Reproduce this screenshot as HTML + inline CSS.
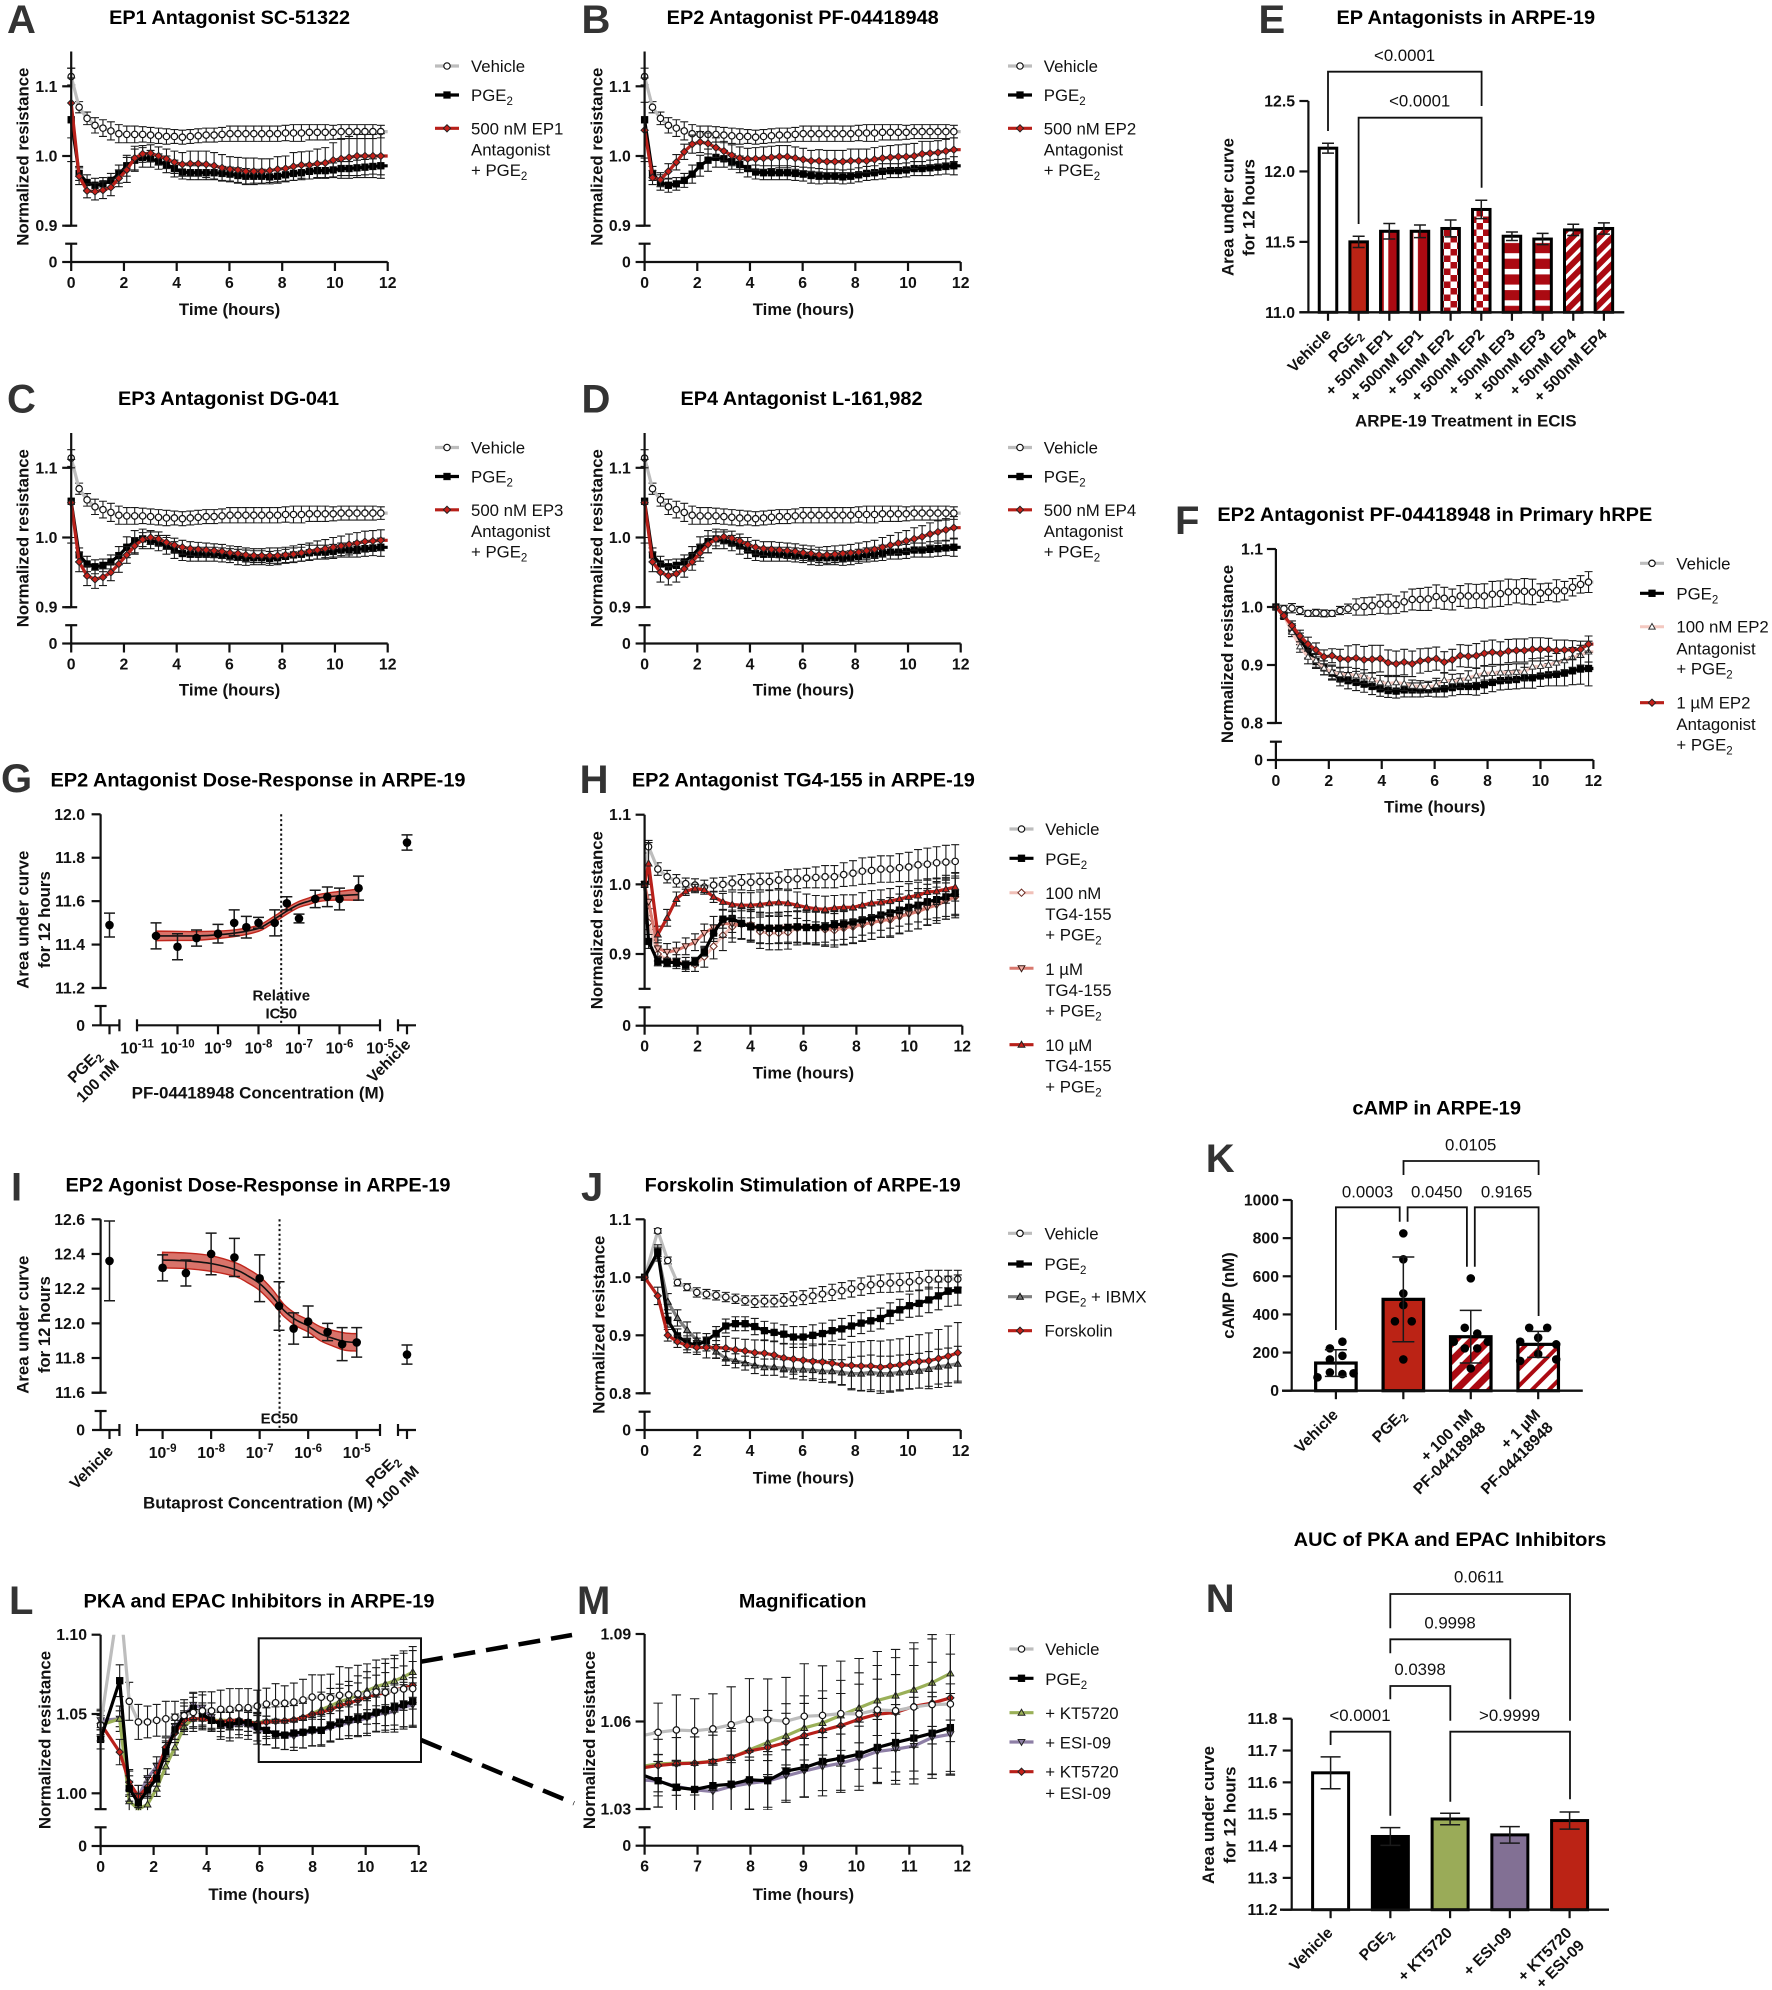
<!DOCTYPE html>
<html lang="en">
<head>
<meta charset="utf-8">
<title>EP receptor antagonist and agonist resistance figure</title>
<style>
html,body{margin:0;padding:0;background:#fff}
svg{display:block;font-family:"Liberation Sans",Arial,sans-serif}
.letter{font-size:40px;font-weight:700;fill:#333}
.title{font-size:19px;font-weight:700;fill:#000}
.axlab{font-size:16.8px;font-weight:700;fill:#111}
.leg{font-size:16.8px;fill:#111}
.pval{font-size:16.8px;fill:#111}
.tick{font-size:15.8px;font-weight:700;fill:#111}
.cat{font-size:15.6px;font-weight:700;fill:#111}
.anno{font-size:15px;font-weight:700;fill:#111}
.sub{font-size:11.5px}
.bracket{fill:none;stroke:#111;stroke-width:1.8}
</style>
</head>
<body>
<svg id="figure" width="1772" height="1990" viewBox="0 0 1772 1990">
<defs id="defs">
<pattern id="pat-v" patternUnits="userSpaceOnUse" x="1383.8" y="0" width="29.6" height="10"><rect width="29.6" height="10" fill="#ab0a12"/><rect width="4.5" height="10" fill="#fff"/></pattern>
<pattern id="pat-check" patternUnits="userSpaceOnUse" x="1" y="2" width="13" height="13"><rect width="13" height="13" fill="#ab0a12"/><rect width="6.5" height="6.5" fill="#fff"/><rect x="6.5" y="6.5" width="6.5" height="6.5" fill="#fff"/></pattern>
<pattern id="pat-h" patternUnits="userSpaceOnUse" x="0" y="2" width="10" height="15.7"><rect width="10" height="15.7" fill="#ab0a12"/><rect width="10" height="5.5" fill="#fff"/></pattern>
<pattern id="pat-d" patternUnits="userSpaceOnUse" width="9.5" height="9.5" patternTransform="rotate(45)"><rect width="9.5" height="9.5" fill="#ab0a12"/><rect width="3.5" height="9.5" fill="#fff"/></pattern>
<pattern id="pat-d2" patternUnits="userSpaceOnUse" width="12" height="12" patternTransform="rotate(45)"><rect width="12" height="12" fill="#ab0a12"/><rect width="5" height="12" fill="#fff"/></pattern>
<pattern id="pat-d3" patternUnits="userSpaceOnUse" width="12" height="12" patternTransform="rotate(45)"><rect width="12" height="12" fill="#fff"/><rect width="4" height="12" fill="#ab0a12"/></pattern>
</defs>

<g id="panel-a">
<text class="letter" x="7" y="33">A</text>
<text class="title" x="229.6" y="24" text-anchor="middle" textLength="241" lengthAdjust="spacingAndGlyphs">EP1 Antagonist SC-51322</text>
<text class="axlab" transform="translate(28.7,156.7) rotate(-90)" text-anchor="middle">Normalized resistance</text>
<text class="axlab" x="229.6" y="315" text-anchor="middle">Time (hours)</text>
<text class="leg" x="471" y="72">Vehicle</text>
<text class="leg" x="471" y="101">PGE<tspan class="sub" dy="4">2</tspan></text>
<text class="leg" x="471" y="134.3">500 nM EP1</text>
<text class="leg" x="471" y="155.7">Antagonist</text>
<text class="leg" x="471" y="176">+ PGE<tspan class="sub" dy="4">2</tspan></text>
</g>

<g id="panel-b">
<text class="letter" x="581.5" y="33">B</text>
<text class="title" x="802.7" y="24" text-anchor="middle" textLength="272" lengthAdjust="spacingAndGlyphs">EP2 Antagonist PF-04418948</text>
<text class="axlab" transform="translate(602.5,156.7) rotate(-90)" text-anchor="middle">Normalized resistance</text>
<text class="axlab" x="803.4" y="315" text-anchor="middle">Time (hours)</text>
<text class="leg" x="1043.8" y="72">Vehicle</text>
<text class="leg" x="1043.8" y="101">PGE<tspan class="sub" dy="4">2</tspan></text>
<text class="leg" x="1043.8" y="134.3">500 nM EP2</text>
<text class="leg" x="1043.8" y="155.7">Antagonist</text>
<text class="leg" x="1043.8" y="176">+ PGE<tspan class="sub" dy="4">2</tspan></text>
</g>

<g id="panel-c">
<text class="letter" x="7" y="412.5">C</text>
<text class="title" x="228.5" y="405" text-anchor="middle" textLength="221" lengthAdjust="spacingAndGlyphs">EP3 Antagonist DG-041</text>
<text class="axlab" transform="translate(28.7,538.2) rotate(-90)" text-anchor="middle">Normalized resistance</text>
<text class="axlab" x="229.6" y="695.5" text-anchor="middle">Time (hours)</text>
<text class="leg" x="471" y="453.5">Vehicle</text>
<text class="leg" x="471" y="482.5">PGE<tspan class="sub" dy="4">2</tspan></text>
<text class="leg" x="471" y="515.8">500 nM EP3</text>
<text class="leg" x="471" y="537.2">Antagonist</text>
<text class="leg" x="471" y="557.5">+ PGE<tspan class="sub" dy="4">2</tspan></text>
</g>

<g id="panel-d">
<text class="letter" x="581.5" y="412.5">D</text>
<text class="title" x="801.5" y="405" text-anchor="middle" textLength="242" lengthAdjust="spacingAndGlyphs">EP4 Antagonist L-161,982</text>
<text class="axlab" transform="translate(602.5,538.2) rotate(-90)" text-anchor="middle">Normalized resistance</text>
<text class="axlab" x="803.4" y="695.5" text-anchor="middle">Time (hours)</text>
<text class="leg" x="1043.8" y="453.5">Vehicle</text>
<text class="leg" x="1043.8" y="482.5">PGE<tspan class="sub" dy="4">2</tspan></text>
<text class="leg" x="1043.8" y="515.8">500 nM EP4</text>
<text class="leg" x="1043.8" y="537.2">Antagonist</text>
<text class="leg" x="1043.8" y="557.5">+ PGE<tspan class="sub" dy="4">2</tspan></text>
</g>

<g id="panel-e">
<text class="letter" x="1258.5" y="33">E</text>
<text class="title" x="1465.8" y="24" text-anchor="middle" textLength="258.6" lengthAdjust="spacingAndGlyphs">EP Antagonists in ARPE-19</text>
<text class="axlab" transform="translate(1233.6,207) rotate(-90)" text-anchor="middle">Area under curve</text>
<text class="axlab" transform="translate(1254.7,207.5) rotate(-90)" text-anchor="middle">for 12 hours</text>
<text class="axlab" x="1465.8" y="426.7" text-anchor="middle" textLength="221.6" lengthAdjust="spacingAndGlyphs">ARPE-19 Treatment in ECIS</text>
<path class="bracket" d="M1328 131V71.7H1481.6V106"/>
<path class="bracket" d="M1358.6 224V117.7H1481.6V187.7"/>
<text class="pval" x="1404.6" y="61" text-anchor="middle">&lt;0.0001</text>
<text class="pval" x="1419.7" y="106.7" text-anchor="middle">&lt;0.0001</text>
</g>

<g id="panel-f">
<text class="letter" x="1175" y="534">F</text>
<text class="title" x="1434.8" y="521" text-anchor="middle" textLength="434.9" lengthAdjust="spacingAndGlyphs">EP2 Antagonist PF-04418948 in Primary hRPE</text>
<text class="axlab" transform="translate(1232.9,654) rotate(-90)" text-anchor="middle">Normalized resistance</text>
<text class="axlab" x="1434.8" y="812.7" text-anchor="middle">Time (hours)</text>
<text class="leg" x="1676.4" y="569.3">Vehicle</text>
<text class="leg" x="1676.4" y="599.3">PGE<tspan class="sub" dy="4">2</tspan></text>
<text class="leg" x="1676.4" y="632.7">100 nM EP2</text>
<text class="leg" x="1676.4" y="654.3">Antagonist</text>
<text class="leg" x="1676.4" y="674.3">+ PGE<tspan class="sub" dy="4">2</tspan></text>
<text class="leg" x="1676.4" y="708.7">1 µM EP2</text>
<text class="leg" x="1676.4" y="730">Antagonist</text>
<text class="leg" x="1676.4" y="750.7">+ PGE<tspan class="sub" dy="4">2</tspan></text>
</g>

<g id="panel-g">
<text class="letter" x="1" y="792">G</text>
<text class="title" x="258" y="786.7" text-anchor="middle" textLength="415" lengthAdjust="spacingAndGlyphs">EP2 Antagonist Dose-Response in ARPE-19</text>
<text class="axlab" transform="translate(28.7,919.7) rotate(-90)" text-anchor="middle">Area under curve</text>
<text class="axlab" transform="translate(49.8,919.7) rotate(-90)" text-anchor="middle">for 12 hours</text>
<text class="axlab" x="258" y="1098.3" text-anchor="middle" textLength="252.6" lengthAdjust="spacingAndGlyphs">PF-04418948 Concentration (M)</text>
<text class="anno" x="281.3" y="1000.7" text-anchor="middle">Relative</text>
<text class="anno" x="281.3" y="1018.3" text-anchor="middle">IC50</text>
</g>

<g id="panel-h">
<text class="letter" x="579.6" y="793">H</text>
<text class="title" x="803.4" y="786.7" text-anchor="middle" textLength="343" lengthAdjust="spacingAndGlyphs">EP2 Antagonist TG4-155 in ARPE-19</text>
<text class="axlab" transform="translate(602.5,920.2) rotate(-90)" text-anchor="middle">Normalized resistance</text>
<text class="axlab" x="803.4" y="1078.3" text-anchor="middle">Time (hours)</text>
<text class="leg" x="1045.3" y="835">Vehicle</text>
<text class="leg" x="1045.3" y="865">PGE<tspan class="sub" dy="4">2</tspan></text>
<text class="leg" x="1045.3" y="899">100 nM</text>
<text class="leg" x="1045.3" y="920">TG4-155</text>
<text class="leg" x="1045.3" y="940.7">+ PGE<tspan class="sub" dy="4">2</tspan></text>
<text class="leg" x="1045.3" y="975">1 µM</text>
<text class="leg" x="1045.3" y="996">TG4-155</text>
<text class="leg" x="1045.3" y="1016.7">+ PGE<tspan class="sub" dy="4">2</tspan></text>
<text class="leg" x="1045.3" y="1051">10 µM</text>
<text class="leg" x="1045.3" y="1071.7">TG4-155</text>
<text class="leg" x="1045.3" y="1092.3">+ PGE<tspan class="sub" dy="4">2</tspan></text>
</g>

<g id="panel-i">
<text class="letter" x="11" y="1200.7">I</text>
<text class="title" x="258" y="1191.3" text-anchor="middle" textLength="385" lengthAdjust="spacingAndGlyphs">EP2 Agonist Dose-Response in ARPE-19</text>
<text class="axlab" transform="translate(28.7,1324.7) rotate(-90)" text-anchor="middle">Area under curve</text>
<text class="axlab" transform="translate(49.8,1324.7) rotate(-90)" text-anchor="middle">for 12 hours</text>
<text class="axlab" x="258" y="1508.3" text-anchor="middle" textLength="230" lengthAdjust="spacingAndGlyphs">Butaprost Concentration (M)</text>
<text class="anno" x="279.4" y="1423.3" text-anchor="middle">EC50</text>
</g>

<g id="panel-j">
<text class="letter" x="581" y="1200.7">J</text>
<text class="title" x="802.7" y="1191.3" text-anchor="middle" textLength="316" lengthAdjust="spacingAndGlyphs">Forskolin Stimulation of ARPE-19</text>
<text class="axlab" transform="translate(604.4,1324.7) rotate(-90)" text-anchor="middle">Normalized resistance</text>
<text class="axlab" x="803.4" y="1483.3" text-anchor="middle">Time (hours)</text>
<text class="leg" x="1044.5" y="1239.3">Vehicle</text>
<text class="leg" x="1044.5" y="1270">PGE<tspan class="sub" dy="4">2</tspan></text>
<text class="leg" x="1044.5" y="1302.7">PGE<tspan class="sub" dy="4">2</tspan><tspan dy="-4"> + IBMX</tspan></text>
<text class="leg" x="1044.5" y="1336.7">Forskolin</text>
</g>

<g id="panel-k">
<text class="letter" x="1205.7" y="1172">K</text>
<text class="title" x="1436.7" y="1114.3" text-anchor="middle" textLength="168.7" lengthAdjust="spacingAndGlyphs">cAMP in ARPE-19</text>
<text class="axlab" transform="translate(1234,1295.5) rotate(-90)" text-anchor="middle">cAMP (nM)</text>
<path class="bracket" d="M1403.5 1175V1161H1538.6V1175"/>
<path class="bracket" d="M1335.9 1330V1207.3H1399.7V1221.7"/>
<path class="bracket" d="M1407.6 1221.7V1207.3H1466.9V1266.7"/>
<path class="bracket" d="M1474.8 1266.7V1207.3H1538.6V1316"/>
<text class="pval" x="1470.7" y="1150.7" text-anchor="middle">0.0105</text>
<text class="pval" x="1367.6" y="1197.3" text-anchor="middle">0.0003</text>
<text class="pval" x="1436.7" y="1197.3" text-anchor="middle">0.0450</text>
<text class="pval" x="1506.5" y="1197.3" text-anchor="middle">0.9165</text>
</g>

<g id="panel-l">
<text class="letter" x="9" y="1614">L</text>
<text class="title" x="259" y="1607.7" text-anchor="middle" textLength="351" lengthAdjust="spacingAndGlyphs">PKA and EPAC Inhibitors in ARPE-19</text>
<text class="axlab" transform="translate(50.5,1740) rotate(-90)" text-anchor="middle">Normalized resistance</text>
<text class="axlab" x="259" y="1900" text-anchor="middle">Time (hours)</text>
</g>

<g id="panel-m">
<text class="letter" x="577" y="1614">M</text>
<text class="title" x="802.7" y="1607.7" text-anchor="middle" textLength="127.5" lengthAdjust="spacingAndGlyphs">Magnification</text>
<text class="axlab" transform="translate(594.9,1740) rotate(-90)" text-anchor="middle">Normalized resistance</text>
<text class="axlab" x="803.4" y="1900" text-anchor="middle">Time (hours)</text>
<text class="leg" x="1045.3" y="1655">Vehicle</text>
<text class="leg" x="1045.3" y="1685">PGE<tspan class="sub" dy="4">2</tspan></text>
<text class="leg" x="1045.3" y="1719">+ KT5720</text>
<text class="leg" x="1045.3" y="1748.3">+ ESI-09</text>
<text class="leg" x="1045.3" y="1777.7">+ KT5720</text>
<text class="leg" x="1045.3" y="1799">+ ESI-09</text>
</g>

<g id="panel-n">
<text class="letter" x="1205.7" y="1612">N</text>
<text class="title" x="1450" y="1546" text-anchor="middle" textLength="312.6" lengthAdjust="spacingAndGlyphs">AUC of PKA and EPAC Inhibitors</text>
<text class="axlab" transform="translate(1214,1815) rotate(-90)" text-anchor="middle">Area under curve</text>
<text class="axlab" transform="translate(1235.5,1815) rotate(-90)" text-anchor="middle">for 12 hours</text>
<path class="bracket" d="M1390.3 1628.3V1594H1570V1720.7"/>
<path class="bracket" d="M1390.3 1653.3V1639.3H1510.3V1699.3"/>
<path class="bracket" d="M1390.3 1699.3V1686H1450.3V1720.7"/>
<path class="bracket" d="M1330.6 1745V1731.7H1390.3V1815.7"/>
<path class="bracket" d="M1450.3 1801.7V1731.7H1570V1799.3"/>
<text class="pval" x="1479" y="1582.7" text-anchor="middle">0.0611</text>
<text class="pval" x="1450" y="1628.7" text-anchor="middle">0.9998</text>
<text class="pval" x="1420" y="1675" text-anchor="middle">0.0398</text>
<text class="pval" x="1360" y="1721" text-anchor="middle">&lt;0.0001</text>
<text class="pval" x="1509.6" y="1721" text-anchor="middle">&gt;0.9999</text>
</g>
<g id="inset-callout">
<rect x="258.7" y="1638.3" width="162.3" height="123.7" fill="none" stroke="#111" stroke-width="2"/>
<line x1="421" y1="1661.7" x2="572" y2="1635" stroke="#000" stroke-width="4.5" stroke-dasharray="22 11"/>
<line x1="421" y1="1740" x2="574" y2="1803.3" stroke="#000" stroke-width="4.5" stroke-dasharray="22 11"/>
</g>
</svg>

<script>
/* ---------- shared time-course values (panels A-D) ---------- */
const epVehicle=[1.114,1.070,1.054,1.044,1.040,1.036,1.032,1.031,1.031,1.031,1.030,1.029,1.028,1.028,1.027,1.028,1.029,1.030,1.030,1.031,1.032,1.032,1.032,1.032,1.032,1.032,1.032,1.033,1.033,1.033,1.034,1.034,1.034,1.034,1.035,1.035,1.035,1.035,1.035,1.035];
const epVehicleErr=[.012,.008,.009,.011,.012,.013,.013,.012,.012,.011,.011,.011,.011,.010,.010,.010,.010,.010,.010,.010,.011,.011,.011,.011,.011,.011,.011,.011,.012,.012,.011,.011,.011,.010,.010,.010,.010,.010,.010,.009];
const epPge=[1.052,.975,.962,.958,.960,.965,.974,.986,.994,.998,.996,.992,.988,.982,.977,.976,.976,.976,.976,.975,.974,.972,.971,.971,.971,.970,.971,.973,.975,.976,.978,.979,.979,.980,.982,.982,.983,.984,.985,.986];
const epPgeErr=[.060,.010,.011,.010,.009,.010,.013,.015,.016,.014,.012,.011,.012,.012,.010,.010,.010,.010,.010,.010,.010,.011,.011,.010,.010,.010,.010,.010,.010,.010,.011,.010,.010,.010,.010,.010,.011,.011,.011,.013];
const ep1Red=[1.076,.971,.950,.949,.951,.955,.968,.980,.997,1.003,1.004,1.000,.996,.991,.988,.989,.989,.988,.986,.983,.981,.980,.978,.978,.978,.979,.981,.982,.985,.987,.987,.989,.990,.994,.996,.998,1.000,1.000,1.000,1.000];
const ep1RedErr=[.050,.012,.010,.012,.012,.012,.012,.018,.017,.012,.012,.013,.014,.016,.017,.018,.018,.019,.019,.019,.018,.018,.019,.019,.018,.017,.018,.018,.020,.019,.020,.021,.022,.025,.028,.030,.031,.031,.031,.032];
const ep2Red=[1.037,.969,.966,.978,.991,1.006,1.017,1.020,1.018,1.012,1.007,1.001,.997,.996,.996,.997,.998,.999,.999,.997,.995,.993,.993,.992,.992,.992,.993,.993,.993,.995,.997,.998,.999,.999,1.000,1.003,1.004,1.005,1.007,1.009];
const ep2RedErr=[.040,.010,.010,.011,.011,.011,.013,.015,.015,.014,.014,.015,.016,.015,.016,.016,.016,.016,.016,.016,.016,.015,.016,.016,.016,.016,.017,.017,.017,.017,.017,.017,.017,.018,.018,.018,.017,.017,.017,.017];
const ep3Red=[1.050,.965,.945,.940,.943,.950,.962,.975,.988,.997,1.000,.998,.993,.989,.986,.984,.983,.982,.981,.980,.978,.977,.975,.974,.974,.974,.974,.975,.976,.978,.980,.982,.984,.986,.988,.990,.992,.994,.995,.996];
const ep3RedErr=[.050,.014,.014,.013,.012,.012,.012,.012,.012,.010,.010,.010,.010,.010,.010,.010,.010,.010,.010,.010,.010,.010,.010,.010,.010,.011,.011,.011,.012,.012,.012,.013,.013,.014,.014,.015,.015,.015,.015,.015];
const ep4Red=[1.050,.965,.950,.945,.948,.955,.965,.978,.990,.998,1.001,.999,.995,.990,.986,.984,.983,.982,.981,.980,.978,.977,.975,.975,.976,.977,.978,.979,.981,.983,.986,.989,.992,.995,.998,1.001,1.005,1.008,1.011,1.014];
const ep4RedErr=[.050,.014,.014,.013,.012,.012,.012,.012,.012,.010,.010,.010,.010,.010,.010,.010,.011,.011,.011,.011,.011,.011,.011,.012,.012,.012,.012,.013,.013,.013,.014,.014,.015,.015,.016,.016,.016,.016,.016,.016];

/* ---------- panel F values ---------- */
const fVehicle=[1.000,.997,.998,.994,.989,.990,.989,.989,.994,.997,1.000,1.001,1.002,1.005,1.005,1.004,1.009,1.013,1.013,1.014,1.018,1.015,1.013,1.019,1.019,1.019,1.019,1.022,1.023,1.026,1.027,1.027,1.026,1.024,1.026,1.028,1.028,1.034,1.039,1.043];
const fVehicleErr=[0,.006,.008,.007,.005,.006,.006,.005,.007,.008,.014,.015,.015,.016,.017,.015,.017,.018,.019,.020,.020,.019,.018,.018,.021,.020,.021,.022,.022,.022,.020,.022,.022,.016,.015,.019,.016,.015,.015,.018];
const fPge=[1.000,.984,.963,.945,.924,.906,.895,.886,.876,.873,.870,.867,.863,.859,.856,.855,.857,.857,.857,.858,.859,.859,.861,.863,.863,.863,.866,.870,.873,.874,.875,.878,.878,.881,.883,.884,.886,.890,.893,.894];
const fPgeErr=[0,.004,.008,.010,.012,.012,.012,.012,.012,.014,.014,.014,.014,.013,.012,.012,.012,.012,.012,.012,.014,.014,.014,.014,.014,.015,.015,.016,.016,.016,.016,.018,.018,.018,.019,.020,.022,.024,.026,.030];
const f100nM=[1.000,.985,.957,.932,.914,.908,.895,.888,.884,.884,.882,.880,.875,.870,.868,.870,.868,.864,.863,.862,.865,.874,.872,.873,.878,.882,.886,.886,.887,.887,.888,.888,.897,.898,.900,.904,.908,.913,.917,.923];
const f100nMErr=[0,.004,.008,.010,.012,.012,.012,.012,.012,.012,.012,.012,.012,.012,.012,.012,.012,.010,.010,.010,.012,.012,.012,.012,.012,.012,.012,.012,.014,.014,.014,.014,.014,.014,.015,.016,.016,.017,.017,.018];
const f1uM=[1.000,.985,.968,.950,.936,.926,.914,.916,.911,.910,.912,.909,.910,.911,.904,.902,.905,.902,.907,.909,.911,.905,.909,.916,.915,.916,.920,.922,.920,.924,.925,.925,.927,.927,.927,.925,.926,.926,.927,.936];
const f1uMErr=[0,.004,.008,.010,.012,.012,.012,.012,.016,.023,.023,.023,.024,.023,.022,.022,.022,.022,.021,.020,.020,.018,.018,.019,.019,.021,.021,.021,.020,.020,.020,.020,.020,.020,.019,.018,.017,.016,.014,.014];

/* ---------- panel H values ---------- */
const hVehicle=[1.000,1.054,1.022,1.011,1.005,1.001,.999,.996,.999,1.000,1.002,1.003,1.003,1.004,1.004,1.006,1.007,1.008,1.009,1.010,1.011,1.011,1.014,1.016,1.019,1.020,1.022,1.022,1.024,1.025,1.028,1.029,1.031,1.032,1.033];
const hVehicleErr=[0,.009,.009,.009,.009,.008,.009,.010,.010,.010,.010,.011,.012,.012,.012,.012,.014,.014,.014,.015,.016,.016,.017,.018,.019,.019,.019,.019,.020,.021,.022,.023,.023,.024,.024];
const hPge=[1.000,.918,.889,.888,.888,.884,.889,.903,.930,.950,.951,.944,.939,.938,.937,.937,.938,.939,.938,.938,.939,.942,.943,.946,.949,.952,.956,.959,.963,.967,.970,.975,.978,.982,.987];
const hPgeErr=[0,.010,.006,.006,.006,.006,.006,.006,.012,.013,.020,.022,.022,.022,.022,.022,.023,.023,.022,.022,.022,.022,.022,.022,.022,.022,.022,.022,.023,.024,.024,.025,.026,.028,.030];
const h100nM=[1.000,.945,.900,.892,.889,.885,.885,.896,.911,.927,.939,.943,.942,.932,.930,.930,.931,.937,.938,.937,.935,.934,.937,.939,.942,.945,.948,.949,.954,.958,.962,.968,.975,.978,.982];
const h100nMErr=[0,.010,.010,.010,.010,.010,.010,.015,.018,.022,.022,.022,.022,.024,.024,.024,.024,.024,.024,.024,.024,.024,.024,.024,.024,.024,.024,.025,.025,.025,.026,.026,.027,.028,.030];
const h1uM=[1.000,.975,.908,.903,.905,.911,.917,.930,.938,.944,.943,.942,.941,.937,.937,.938,.939,.939,.939,.938,.937,.937,.938,.940,.943,.945,.948,.950,.954,.957,.961,.966,.970,.976,.982];
const h1uMErr=[0,.010,.012,.012,.012,.012,.012,.013,.016,.020,.020,.020,.022,.022,.022,.022,.022,.022,.024,.024,.024,.024,.024,.024,.024,.024,.024,.024,.024,.024,.025,.025,.026,.026,.027];
const h10uM=[1.000,1.030,.928,.952,.979,.990,.994,.992,.982,.975,.971,.970,.970,.971,.973,.974,.973,.970,.967,.965,.964,.966,.967,.967,.970,.973,.974,.976,.979,.982,.984,.989,.990,.993,.996];
const h10uMErr=[0,.030,.012,.012,.010,.006,.006,.006,.008,.012,.018,.018,.018,.018,.018,.018,.018,.019,.019,.019,.019,.018,.018,.018,.018,.018,.018,.018,.018,.019,.019,.019,.019,.020,.020];

/* ---------- panel J values ---------- */
const jVehicle=[1.000,1.080,1.029,.991,.983,.974,.971,.969,.966,.963,.960,.958,.959,.959,.961,.963,.965,.968,.971,.974,.977,.980,.984,.987,.989,.990,.991,.992,.994,.996,.997,.997,.997];
const jVehicleErr=[0,.004,.006,.006,.006,.008,.008,.008,.008,.008,.008,.010,.010,.010,.011,.012,.012,.013,.013,.014,.014,.014,.015,.015,.015,.016,.016,.016,.016,.016,.015,.015,.015];
const jPge=[1.000,1.044,.926,.899,.887,.883,.891,.903,.916,.920,.920,.915,.908,.905,.902,.897,.897,.900,.903,.908,.911,.916,.921,.925,.929,.938,.944,.951,.955,.961,.968,.976,.978];
const jPgeErr=[0,.012,.012,.012,.012,.012,.012,.012,.012,.012,.012,.014,.016,.016,.016,.018,.018,.018,.018,.018,.018,.018,.018,.018,.018,.018,.018,.020,.022,.022,.024,.026,.026];
const jIbmx=[1.000,1.040,.958,.930,.909,.892,.885,.872,.860,.856,.852,.848,.845,.845,.843,.841,.841,.840,.838,.838,.836,.834,.834,.836,.834,.834,.836,.837,.839,.842,.846,.848,.851];
const jIbmxErr=[0,.012,.014,.014,.014,.012,.012,.012,.012,.012,.012,.014,.014,.014,.015,.016,.018,.018,.019,.020,.022,.028,.030,.030,.030,.030,.030,.030,.030,.030,.030,.030,.030];
const jForskolin=[1.000,.968,.900,.889,.882,.879,.879,.879,.878,.875,.873,.870,.869,.866,.861,.859,.857,.855,.854,.852,.849,.848,.847,.847,.845,.847,.849,.853,.855,.856,.860,.864,.870];
const jForskolinErr=[0,.015,.010,.010,.012,.012,.018,.018,.020,.020,.020,.022,.022,.024,.024,.026,.028,.030,.030,.032,.034,.040,.042,.044,.045,.045,.045,.045,.046,.048,.050,.052,.052];

/* ---------- panels L and M share these values ---------- */
const lVehicle=[1.043,1.125,1.058,1.045,1.045,1.046,1.047,1.048,1.049,1.051,1.052,1.052,1.053,1.053,1.054,1.054,1.055,1.0563,1.0571,1.0568,1.0575,1.0589,1.0607,1.0606,1.0601,1.0618,1.0621,1.0627,1.0626,1.0640,1.0637,1.0650,1.0658,1.0660];
const lVehicleErr=[.010,.020,.012,.011,.010,.010,.011,.010,.010,.012,.012,.012,.012,.013,.012,.012,.010,.010,.012,.011,.012,.013,.014,.014,.015,.018,.017,.018,.019,.020,.021,.022,.024,.024];
const lPge=[1.034,1.071,1.003,.994,1.002,1.0095,1.026,1.040,1.049,1.0535,1.050,1.046,1.0437,1.043,1.045,1.0445,1.042,1.0397,1.0374,1.0367,1.0380,1.0385,1.0400,1.0397,1.0430,1.0442,1.0463,1.0474,1.0488,1.0511,1.0528,1.0543,1.0560,1.0579];
const lPgeErr=[.006,.010,.008,.006,.005,.005,.006,.006,.006,.007,.007,.007,.008,.008,.008,.008,.009,.009,.009,.009,.009,.010,.010,.010,.010,.010,.010,.011,.011,.012,.013,.014,.014,.015];
const lKt=[1.043,1.047,.995,.990,.993,1.003,1.017,1.029,1.042,1.047,1.047,1.046,1.046,1.046,1.046,1.045,1.0445,1.0455,1.0457,1.0458,1.0464,1.0476,1.0503,1.0528,1.0551,1.0578,1.0595,1.0621,1.0647,1.0672,1.0689,1.0709,1.0733,1.0765];
const lKtErr=[.006,.005,.007,.006,.006,.005,.005,.005,.005,.005,.005,.005,.005,.006,.006,.006,.006,.011,.011,.011,.010,.010,.010,.011,.011,.011,.011,.012,.012,.012,.013,.014,.015,.016];
const lEsi=[1.046,1.047,1.006,.998,1.0095,1.017,1.027,1.042,1.049,1.0557,1.054,1.048,1.043,1.042,1.044,1.043,1.040,1.0396,1.0377,1.0366,1.0360,1.0377,1.0388,1.0396,1.0413,1.0430,1.0445,1.0457,1.0474,1.0497,1.0505,1.0516,1.0545,1.0556];
const lEsiErr=[.006,.008,.008,.007,.006,.006,.006,.008,.008,.008,.008,.009,.009,.009,.009,.009,.009,.009,.009,.009,.009,.009,.009,.009,.009,.009,.010,.010,.011,.011,.012,.013,.014,.014];
const lCombo=[1.044,1.026,1.007,.998,1.004,1.013,1.029,1.038,1.046,1.047,1.047,1.046,1.045,1.046,1.046,1.045,1.044,1.0449,1.0455,1.0457,1.0463,1.0477,1.0499,1.0511,1.0528,1.0552,1.0569,1.0586,1.0608,1.0625,1.0631,1.0652,1.0663,1.0681];
const lComboErr=[.008,.008,.008,.007,.006,.006,.006,.006,.006,.006,.006,.006,.006,.006,.006,.006,.006,.009,.009,.009,.009,.009,.010,.010,.010,.011,.011,.011,.012,.012,.013,.014,.014,.015];

/* ---------- axis tick values ---------- */
const hourTicks=[0,2,4,6,8,10,12];
const magnifiedHourTicks=[6,7,8,9,10,11,12];
const resistanceTicksA=[1.1,1.0,0.9];
const resistanceTicksF=[1.1,1.0,0.9,0.8];
const resistanceTicksL=[1.10,1.05,1.00];
const resistanceTicksM=[1.09,1.06,1.03];

/* ---------- panel E bars ---------- */
const eCategories=[['Vehicle'],['PGE_2'],['+ 50nM EP1'],['+ 500nM EP1'],['+ 50nM EP2'],['+ 500nM EP2'],['+ 50nM EP3'],['+ 500nM EP3'],['+ 50nM EP4'],['+ 500nM EP4']];
const eValues=[12.165,11.50,11.575,11.575,11.595,11.73,11.54,11.52,11.585,11.595];
const eErrors=[.035,.04,.055,.045,.06,.065,.03,.04,.04,.04];
const eTicks=[11.0,11.5,12.0,12.5];

/* ---------- panel G dose-response ---------- */
const gLogDose=[-10.53,-10,-9.53,-9,-8.6,-8.3,-8,-7.6,-7.3,-7,-6.6,-6.3,-6,-5.53];
const gAuc=[11.44,11.39,11.43,11.45,11.50,11.48,11.50,11.50,11.59,11.52,11.61,11.62,11.61,11.66];
const gAucErr=[.06,.06,.037,.043,.06,.05,.025,.06,.03,.02,.04,.045,.05,.055];
const gFitLogDose=[-10.53,-10,-9.5,-9,-8.5,-8,-7.75,-7.5,-7.25,-7,-6.75,-6.5,-6,-5.53];
const gFitAuc=[11.44,11.44,11.44,11.445,11.455,11.475,11.50,11.53,11.56,11.585,11.60,11.615,11.625,11.63];
const gFitBand=[.022,.021,.02,.017,.015,.014,.014,.014,.014,.014,.015,.016,.02,.026];
const gTicks=[12.0,11.8,11.6,11.4,11.2];
const gDecades=[-11,-10,-9,-8,-7,-6,-5];
const gDecadeLabels=['10^-11','10^-10','10^-9','10^-8','10^-7','10^-6','10^-5'];
const gPge=[11.49,.055];
const gVehicle=[11.87,.035];
const gIc50=-7.44;

/* ---------- panel I dose-response ---------- */
const iLogDose=[-9,-8.52,-8,-7.52,-7,-6.6,-6.3,-6,-5.6,-5.3,-5];
const iAuc=[12.32,12.29,12.40,12.38,12.26,12.10,11.97,12.01,11.95,11.88,11.89];
const iAucErr=[.075,.075,.12,.11,.135,.14,.09,.09,.05,.095,.085];
const iFitLogDose=[-9,-8.5,-8,-7.5,-7.25,-7,-6.75,-6.5,-6.25,-6,-5.75,-5.5,-5.25,-5];
const iFitAuc=[12.365,12.36,12.345,12.31,12.275,12.23,12.16,12.075,12.02,11.985,11.94,11.915,11.895,11.89];
const iFitBand=[.045,.045,.045,.04,.04,.04,.04,.035,.035,.035,.04,.045,.05,.05];
const iTicks=[12.6,12.4,12.2,12.0,11.8,11.6];
const iDecades=[-9,-8,-7,-6,-5];
const iDecadeLabels=['10^-9','10^-8','10^-7','10^-6','10^-5'];
const iVehicle=[12.36,.23];
const iPge=[11.82,.055];
const iEc50=-6.59;

/* ---------- panel K bars and replicates ---------- */
const kCategories=[['Vehicle'],['PGE_2'],['+ 100 nM','PF-04418948'],['+ 1 µM','PF-04418948']];
const kValues=[145,479,283,243];
const kErrors=[70,222,138,68];
const kTicks=[0,200,400,600,800,1000];
const kReplicates=[[257,222,183,164,96,87,91,70],[825,689,510,449,364,364,164],[589,330,300,257,257,222,222,117],[330,330,278,257,243,192,156,164]];

/* ---------- panel N bars ---------- */
const nCategories=[['Vehicle'],['PGE_2'],['+ KT5720'],['+ ESI-09'],['+ KT5720','+ ESI-09']];
const nValues=[11.63,11.43,11.485,11.435,11.48];
const nErrors=[.05,.028,.018,.026,.027];
const nTicks=[11.2,11.3,11.4,11.5,11.6,11.7,11.8];

/* ---------- helpers ---------- */
const NS='http://www.w3.org/2000/svg';
function node(tag,attrs,parent){
  const el=document.createElementNS(NS,tag);
  for(const k in attrs){el.setAttribute(k,attrs[k]);}
  parent.appendChild(el);
  return el;
}
function linear(d0,d1,r0,r1){return v=>r0+(v-d0)*(r1-r0)/(d1-d0);}
function steps(start,count,step){const a=[];for(let i=0;i<count;i++){a.push(start+i*step);}return a;}
function rich(el,str){
  const parts=str.split(/(_\d|\^-?\d+)/);
  let back=0;
  parts.forEach(p=>{
    if(!p)return;
    if(p[0]==='_'){const t=node('tspan',{dy:4,'font-size':'11.5px'},el);t.textContent=p.slice(1);back=-4;}
    else if(p[0]==='^'){const t=node('tspan',{dy:-6,'font-size':'11.5px'},el);t.textContent=p.slice(1);back=6;}
    else{const t=node('tspan',{dy:back},el);t.textContent=p;back=0;}
  });
}
function seg(parent,x1,y1,x2,y2,name,w){
  const el=node('line',{x1:x1,y1:y1,x2:x2,y2:y2,stroke:'#111','stroke-width':w||2.2},parent);
  
  
  return el;
}
function label(parent,x,y,str,cls,anchor,name,rot){
  const a={x:x,y:y,'class':cls,'text-anchor':anchor};
  if(rot){a.transform='rotate('+rot+' '+x+' '+y+')';}
  const el=node('text',a,parent);
  rich(el,str);
  
  
  return el;
}
function drawMarker(parent,s,x,y,name){
  let el;
  const r=s.r;
  const a={fill:s.fill,stroke:s.stroke,'stroke-width':s.sw};
  if(s.m==='circle'){a.cx=x;a.cy=y;a.r=r;el=node('circle',a,parent);}
  else if(s.m==='square'){a.x=x-r;a.y=y-r;a.width=2*r;a.height=2*r;el=node('rect',a,parent);}
  else if(s.m==='diamond'){a.d='M'+x+' '+(y-r)+'L'+(x+r)+' '+y+'L'+x+' '+(y+r)+'L'+(x-r)+' '+y+'Z';el=node('path',a,parent);}
  else if(s.m==='up'){a.d='M'+x+' '+(y-r)+'L'+(x+r)+' '+(y+r*.75)+'L'+(x-r)+' '+(y+r*.75)+'Z';el=node('path',a,parent);}
  else{a.d='M'+x+' '+(y+r)+'L'+(x+r)+' '+(y-r*.75)+'L'+(x-r)+' '+(y-r*.75)+'Z';el=node('path',a,parent);}
  
  
  return el;
}
function errorBar(parent,x,yHi,yLo,cap,name,w){
  const d='M'+x+' '+yHi+'V'+yLo+'M'+(x-cap)+' '+yHi+'H'+(x+cap)+'M'+(x-cap)+' '+yLo+'H'+(x+cap);
  const el=node('path',{d:d,fill:'none',stroke:'#1a1a1a','stroke-width':w||1.25},parent);
  
  
  return el;
}

/* ---------- series styles ---------- */
const sVehicle={line:'#bdbdbd',w:3.2,m:'circle',fill:'#fff',stroke:'#111',sw:1.2,r:3.2};
const sPge={line:'#000',w:3.2,m:'square',fill:'#000',stroke:'#000',sw:.5,r:3.4};
const sRed={line:'#b8201a',w:3.2,m:'diamond',fill:'#c8201a',stroke:'#222',sw:1,r:3.6};
const sPaleTri={line:'#f3c8c0',w:3,m:'up',fill:'#fff',stroke:'#333',sw:1,r:3.2};
const sPaleDia={line:'#f0c0b8',w:3,m:'diamond',fill:'#fff',stroke:'#6a2a20',sw:1,r:3.6};
const sMidDown={line:'#d9796f',w:3,m:'down',fill:'#f1b0a8',stroke:'#3a1a14',sw:1,r:3.4};
const sRedUp={line:'#b8201a',w:3.2,m:'up',fill:'#c8201a',stroke:'#222',sw:1,r:3.4};
const sGray={line:'#7f7f7f',w:3.2,m:'up',fill:'#777',stroke:'#111',sw:1,r:3.4};
const sGreen={line:'#9ab058',w:3.2,m:'up',fill:'#9ab058',stroke:'#222',sw:1,r:3.4};
const sPurple={line:'#8e7fa6',w:3.2,m:'down',fill:'#8e7fa6',stroke:'#222',sw:1,r:3.4};

const stepA=steps(0,40,.301);
const stepF=steps(0,40,.303);
const stepH=[0,.15].concat(steps(.5,33,.351));
const stepJ=[0,.5].concat(steps(.88,31,.367));
const stepL=[0,.72].concat(steps(1.08,32,.345));

let clipCount=0;
function timeChart(c){
  const g=document.getElementById(c.panel);
  const x=linear(c.xDomain[0],c.xDomain[1],c.xPx[0],c.xPx[1]);
  const y=linear(c.yRef[0],c.yRef[1],c.yPx[0],c.yPx[1]);
  const x0=c.xPx[0], xEnd=c.xPx[1];
  const bottomPx=y(c.yBottom), topPx=y(c.yTop);
  clipCount+=1;
  const id='clip-'+clipCount;
  const cp=node('clipPath',{id:id},document.getElementById('defs'));
  node('rect',{x:x0-(c.clipLeft===undefined?8:c.clipLeft),y:topPx,width:xEnd-x0+(c.clipLeft===undefined?8:c.clipLeft)+3,height:bottomPx-topPx+1},cp);

  const plot=node('g',{'clip-path':'url(#'+id+')'},g);
  
  
  c.series.forEach(s=>{
    const sg=node('g',{},plot);
    
    
    const pts=s.vals.map((v,i)=>[x(s.times[i]),y(v)]);
    s.vals.forEach((v,i)=>{
      const e=s.errs[i]||0;
      if(e>0){errorBar(sg,pts[i][0],y(v+e),y(v-e),c.cap||4,'error-bar',1.1);}
    });
    let d='M'+pts.map(p=>p[0].toFixed(1)+' '+p[1].toFixed(1)).join('L');
    if(c.tail){d+='L'+x(c.tail).toFixed(1)+' '+pts[pts.length-1][1].toFixed(1);}
    const ln=node('path',{d:d,fill:'none',stroke:s.style.line,'stroke-width':s.style.w,'stroke-linejoin':'round'},sg);
    
    
    pts.forEach(p=>{drawMarker(sg,s.style,p[0],p[1],'point-'+s.name);});
  });

  seg(g,x0,topPx,x0,bottomPx,'y-axis-upper');
  seg(g,x0-6,bottomPx,x0+6,bottomPx,'y-axis-break-cap');
  seg(g,x0-6,c.breakPx,x0+6,c.breakPx,'y-axis-break-cap');
  seg(g,x0,c.breakPx,x0,c.zeroPx,'y-axis-lower');
  c.yTicks.forEach(v=>{
    seg(g,x0-9,y(v),x0,y(v),'y-tick');
    label(g,c.yLabelRight,y(v)+5.5,v.toFixed(c.decimals||1),'tick','end','y-tick-label');
  });
  seg(g,x0-9,c.zeroPx,x0,c.zeroPx,'y-tick-zero');
  label(g,c.yLabelRight,c.zeroPx+5.5,'0','tick','end','y-tick-label');
  seg(g,x0,c.zeroPx,xEnd,c.zeroPx,'x-axis');
  c.xTicks.forEach(t=>{
    seg(g,x(t),c.zeroPx,x(t),c.zeroPx+9,'x-tick');
    label(g,x(t),c.zeroPx+26,String(t),'tick','middle','x-tick-label');
  });
  if(c.legend){
    c.legend.forEach(k=>{
      const kg=node('g',{},g);
      
      
      const kl=node('line',{x1:c.legendX-12,x2:c.legendX+12,y1:k[0],y2:k[0],stroke:k[1].line,'stroke-width':k[1].w},kg);
      
      
      drawMarker(kg,k[1],c.legendX,k[0],'legend-key-marker');
    });
  }
}

function epPanel(panel,xPx,shift,redVals,redErrs,legendX,redName){
  timeChart({panel:panel,xDomain:[0,12],xPx:xPx,yRef:[1.1,.9],yPx:[86.3+shift,225.7+shift],yTop:1.15,yBottom:.9,
    breakPx:243.7+shift,zeroPx:262+shift,yTicks:resistanceTicksA,xTicks:hourTicks,yLabelRight:xPx[0]-13.8,tail:12,
    series:[
      {name:'vehicle',times:stepA,vals:epVehicle,errs:epVehicleErr,style:sVehicle},
      {name:'pge2',times:stepA,vals:epPge,errs:epPgeErr,style:sPge},
      {name:redName,times:stepA,vals:redVals,errs:redErrs,style:sRed}],
    legendX:legendX,legend:[[66+shift,sVehicle],[95+shift,sPge],[128.3+shift,sRed]]});
}
epPanel('panel-a',[71.2,387.7],0,ep1Red,ep1RedErr,447,'ep1-antagonist');
epPanel('panel-b',[644.6,960.7],0,ep2Red,ep2RedErr,1020,'ep2-antagonist');
epPanel('panel-c',[71.2,387.7],381.5,ep3Red,ep3RedErr,447,'ep3-antagonist');
epPanel('panel-d',[644.6,960.7],381.5,ep4Red,ep4RedErr,1020,'ep4-antagonist');

timeChart({panel:'panel-f',xDomain:[0,12],xPx:[1275.9,1593.4],yRef:[1.1,.8],yPx:[549,723],yTop:1.1,yBottom:.8,
  breakPx:741.7,zeroPx:760,yTicks:resistanceTicksF,xTicks:hourTicks,yLabelRight:1263,tail:12,
  series:[
    {name:'vehicle',times:stepF,vals:fVehicle,errs:fVehicleErr,style:sVehicle},
    {name:'pge2',times:stepF,vals:fPge,errs:fPgeErr,style:sPge},
    {name:'100nm-antagonist',times:stepF,vals:f100nM,errs:f100nMErr,style:sPaleTri},
    {name:'1um-antagonist',times:stepF,vals:f1uM,errs:f1uMErr,style:sRed}],
  legendX:1652,legend:[[563.3,sVehicle],[593.3,sPge],[626.7,sPaleTri],[702.7,sRed]]});

timeChart({panel:'panel-h',xDomain:[0,12],xPx:[644.6,962.3],yRef:[1.1,.9],yPx:[814.7,954],yTop:1.1,yBottom:.85,
  breakPx:1007.3,zeroPx:1025.7,yTicks:resistanceTicksA,xTicks:hourTicks,yLabelRight:631,
  series:[
    {name:'vehicle',times:stepH,vals:hVehicle,errs:hVehicleErr,style:sVehicle},
    {name:'100nm-tg4-155',times:stepH,vals:h100nM,errs:h100nMErr,style:sPaleDia},
    {name:'1um-tg4-155',times:stepH,vals:h1uM,errs:h1uMErr,style:sMidDown},
    {name:'pge2',times:stepH,vals:hPge,errs:hPgeErr,style:sPge},
    {name:'10um-tg4-155',times:stepH,vals:h10uM,errs:h10uMErr,style:sRedUp}],
  legendX:1021.5,legend:[[829,sVehicle],[858.3,sPge],[892.7,sPaleDia],[968.3,sMidDown],[1044.7,sRedUp]]});

timeChart({panel:'panel-j',xDomain:[0,12],xPx:[644.6,960.7],yRef:[1.1,.8],yPx:[1219.3,1393.3],yTop:1.1,yBottom:.8,
  breakPx:1411.7,zeroPx:1430,yTicks:resistanceTicksF,xTicks:hourTicks,yLabelRight:631,
  series:[
    {name:'vehicle',times:stepJ,vals:jVehicle,errs:jVehicleErr,style:sVehicle},
    {name:'pge2-ibmx',times:stepJ,vals:jIbmx,errs:jIbmxErr,style:sGray},
    {name:'pge2',times:stepJ,vals:jPge,errs:jPgeErr,style:sPge},
    {name:'forskolin',times:stepJ,vals:jForskolin,errs:jForskolinErr,style:sRed}],
  legendX:1020,legend:[[1233.3,sVehicle],[1264,sPge],[1296.7,sGray],[1330.7,sRed]]});

const inhibitorSeries=[
  {name:'esi-09',times:stepL,vals:lEsi,errs:lEsiErr,style:sPurple},
  {name:'kt5720',times:stepL,vals:lKt,errs:lKtErr,style:sGreen},
  {name:'kt5720-esi-09',times:stepL,vals:lCombo,errs:lComboErr,style:sRed},
  {name:'pge2',times:stepL,vals:lPge,errs:lPgeErr,style:sPge},
  {name:'vehicle',times:stepL,vals:lVehicle,errs:lVehicleErr,style:sVehicle}];

timeChart({panel:'panel-l',xDomain:[0,12],xPx:[100.6,418.7],yRef:[1.10,1.00],yPx:[1634.7,1793.3],yTop:1.10,yBottom:.99,
  breakPx:1827.3,zeroPx:1846,yTicks:resistanceTicksL,decimals:2,xTicks:hourTicks,yLabelRight:87,series:inhibitorSeries});

timeChart({panel:'panel-m',xDomain:[6,12],xPx:[644.6,962.3],yRef:[1.09,1.03],yPx:[1634,1809],yTop:1.09,yBottom:1.03,clipLeft:0,cap:4.7,
  breakPx:1827.3,zeroPx:1845.7,yTicks:resistanceTicksM,decimals:2,xTicks:magnifiedHourTicks,yLabelRight:631.2,series:inhibitorSeries,
  legendX:1021.5,legend:[[1649,sVehicle],[1678.3,sPge],[1712.7,sGreen],[1742,sPurple],[1771.7,sRed]]});

/* ---------- bar charts ---------- */
function catLabels(g,cats,cx,axisPx,dx,dy){
  cats.forEach((lines,i)=>{
    lines.forEach((txt,j)=>{
      label(g,cx(i)+dx+j*12.7,axisPx+dy+j*12.7,txt,'cat','end','category-label',-45);
    });
  });
}
function barChart(c){
  const g=document.getElementById(c.panel);
  const y=linear(c.yRef[0],c.yRef[1],c.yPx[0],c.yPx[1]);
  const cx=linear(0,c.cats.length-1,c.cx[0],c.cx[1]);
  const basePx=y(c.yBase);
  c.vals.forEach((v,i)=>{
    const r=node('rect',{x:cx(i)-c.barW/2,y:y(v),width:c.barW,height:basePx-y(v),fill:c.fills[i],stroke:'#000','stroke-width':c.barStroke},g);
    
    
  });
  if(c.replicates){
    c.replicates.forEach((arr,i)=>{
      arr.forEach((v,j)=>{
        const dot=node('circle',{cx:cx(i)+c.jitter[i][j],cy:y(v),r:4.3,fill:'#000'},g);
        
        
      });
    });
  }
  c.vals.forEach((v,i)=>{errorBar(g,cx(i),y(v+c.errs[i]),y(v-c.errs[i]),c.cap,'error-bar',1.5);});
  seg(g,c.axisX,y(c.ticks[c.ticks.length-1]),c.axisX,basePx,'y-axis');
  c.ticks.forEach(v=>{
    seg(g,c.axisX-9,y(v),c.axisX,y(v),'y-tick');
    label(g,c.yLabelRight,y(v)+5.5,c.decimals?v.toFixed(c.decimals):String(v),'tick','end','y-tick-label');
  });
  seg(g,c.xAxis[0],basePx,c.xAxis[1],basePx,'x-axis',2.4);
  c.vals.forEach((v,i)=>{seg(g,cx(i),basePx,cx(i),basePx+8.5,'x-tick');});
  catLabels(g,c.cats,cx,basePx,c.labelDx,c.labelDy);
}
barChart({panel:'panel-e',cats:eCategories,vals:eValues,errs:eErrors,ticks:eTicks,decimals:1,yRef:[12.5,11.0],yPx:[101,312.3],yBase:11.0,
  cx:[1328,1603.9],barW:17.5,barStroke:3,cap:6,axisX:1308.4,xAxis:[1299.3,1624.3],yLabelRight:1295,labelDx:4,labelDy:23,
  fills:['#fff','#bb2315','url(#pat-v)','url(#pat-v)','url(#pat-check)','url(#pat-check)','url(#pat-h)','url(#pat-h)','url(#pat-d)','url(#pat-d)']});
barChart({panel:'panel-k',cats:kCategories,vals:kValues,errs:kErrors,ticks:kTicks,yRef:[1000,0],yPx:[1200,1390.7],yBase:0,
  cx:[1335.9,1538.2],barW:40.5,barStroke:3.2,cap:11,axisX:1291.7,xAxis:[1282,1582.8],yLabelRight:1279,labelDx:3,labelDy:25,
  fills:['#fff','#bb2315','url(#pat-d2)','url(#pat-d3)'],replicates:kReplicates,
  jitter:[[6.5,-6,6.5,-6,-6,6.5,17.6,-18.4],[0,0,0,0,-8.4,8.4,0],[0,-6,6.5,-17,17,-6,6.5,0],[-9,9,0,-18,18,0,-18,18]]});
barChart({panel:'panel-n',cats:nCategories,vals:nValues,errs:nErrors,ticks:nTicks,decimals:1,yRef:[11.8,11.2],yPx:[1718.7,1909.7],yBase:11.2,
  cx:[1330.6,1569.6],barW:36,barStroke:3,cap:10,axisX:1291.7,xAxis:[1280,1609],yLabelRight:1277.4,labelDx:3,labelDy:24,
  fills:['#fff','#000','#9aab58','#827094','#bb2315']});

/* ---------- dose-response charts ---------- */
function crSegs(pts){
  let d='';
  for(let i=0;i<pts.length-1;i++){
    const p0=pts[Math.max(i-1,0)],p1=pts[i],p2=pts[i+1],p3=pts[Math.min(i+2,pts.length-1)];
    d+='C'+(p1[0]+(p2[0]-p0[0])/6).toFixed(1)+' '+(p1[1]+(p2[1]-p0[1])/6).toFixed(1)+' '+(p2[0]-(p3[0]-p1[0])/6).toFixed(1)+' '+(p2[1]-(p3[1]-p1[1])/6).toFixed(1)+' '+p2[0].toFixed(1)+' '+p2[1].toFixed(1);
  }
  return d;
}
function doseChart(c){
  const g=document.getElementById(c.panel);
  const y=linear(c.yRef[0],c.yRef[1],c.yPx[0],c.yPx[1]);
  const x=linear(c.xRef[0],c.xRef[1],c.xPx[0],c.xPx[1]);
  const ax=100.6;
  const up=c.fitX.map((t,i)=>[x(t),y(c.fitY[i]+c.band[i])]);
  const lo=c.fitX.map((t,i)=>[x(t),y(c.fitY[i]-c.band[i])]).reverse();
  const bandPath=node('path',{d:'M'+up[0][0]+' '+up[0][1]+crSegs(up)+'L'+lo[0][0]+' '+lo[0][1]+crSegs(lo)+'Z',fill:'#d9736a',stroke:'#c0261c','stroke-width':1.4},g);
  
  
  const mid=c.fitX.map((t,i)=>[x(t),y(c.fitY[i])]);
  const fit=node('path',{d:'M'+mid[0][0]+' '+mid[0][1]+crSegs(mid),fill:'none',stroke:'#111','stroke-width':1.6},g);
  
  
  const dotted=node('line',{x1:x(c.mark),x2:x(c.mark),y1:y(c.ticks[0]),y2:c.zeroPx,stroke:'#111','stroke-width':2,'stroke-dasharray':'2.2 2.6'},g);
  
  
  const pts=c.logs.map((t,i)=>[x(t),c.vals[i],c.errs[i]]);
  pts.push([109.5,c.left[0],c.left[1]]);
  pts.push([407,c.right[0],c.right[1]]);
  pts.forEach(p=>{
    errorBar(g,p[0],y(p[1]+p[2]),y(p[1]-p[2]),5.5,'error-bar',1.5);
    const dot=node('circle',{cx:p[0],cy:y(p[1]),r:4.3,fill:'#000'},g);
    
    
  });
  const bottom=y(c.ticks[c.ticks.length-1]);
  seg(g,ax,y(c.ticks[0]),ax,bottom,'y-axis-upper');
  seg(g,ax-9,bottom,ax+6,bottom,'y-axis-break-cap');
  seg(g,ax-6,c.breakPx,ax+6,c.breakPx,'y-axis-break-cap');
  seg(g,ax,c.breakPx,ax,c.zeroPx,'y-axis-lower');
  c.ticks.forEach(v=>{
    seg(g,ax-9,y(v),ax,y(v),'y-tick');
    label(g,85,y(v)+5.5,v.toFixed(1),'tick','end','y-tick-label');
  });
  label(g,85,c.zeroPx+5.5,'0','tick','end','y-tick-label');
  seg(g,92,c.zeroPx,119.4,c.zeroPx,'x-axis-left-segment');
  seg(g,119.4,c.zeroPx-6,119.4,c.zeroPx+6,'x-axis-break-cap');
  seg(g,109.5,c.zeroPx,109.5,c.zeroPx+9,'x-tick');
  seg(g,137,c.zeroPx,380,c.zeroPx,'x-axis-dose-segment');
  seg(g,137,c.zeroPx-6,137,c.zeroPx+6,'x-axis-break-cap');
  seg(g,380,c.zeroPx-6,380,c.zeroPx+6,'x-axis-break-cap');
  seg(g,398,c.zeroPx,416,c.zeroPx,'x-axis-right-segment');
  seg(g,398,c.zeroPx-6,398,c.zeroPx+6,'x-axis-break-cap');
  seg(g,407,c.zeroPx,407,c.zeroPx+9,'x-tick');
  c.decades.forEach((t,i)=>{
    if(t>c.minTick&&t<c.maxTick){seg(g,x(t),c.zeroPx,x(t),c.zeroPx+9,'x-tick');}
    label(g,x(t),c.zeroPx+28,c.decadeLabels[i],'tick','middle','x-tick-label');
  });
  c.sideLabels.forEach(s=>{label(g,s[0],s[1],s[2],'cat','end','category-label',-45);});
}
doseChart({panel:'panel-g',yRef:[12.0,11.2],yPx:[814.3,988],xRef:[-11,-5],xPx:[137,380],zeroPx:1025.3,breakPx:1006,
  ticks:gTicks,logs:gLogDose,vals:gAuc,errs:gAucErr,fitX:gFitLogDose,fitY:gFitAuc,band:gFitBand,mark:gIc50,left:gPge,right:gVehicle,
  decades:gDecades,decadeLabels:gDecadeLabels,minTick:-11,maxTick:-5,
  sideLabels:[[102,1056,'PGE_2'],[120,1066,'100 nM'],[411.5,1045.5,'Vehicle']]});
doseChart({panel:'panel-i',yRef:[12.6,11.6],yPx:[1219.3,1392.7],xRef:[-9,-5],xPx:[162.6,356.7],zeroPx:1430,breakPx:1411,
  ticks:iTicks,logs:iLogDose,vals:iAuc,errs:iAucErr,fitX:iFitLogDose,fitY:iFitAuc,band:iFitBand,mark:iEc50,left:iVehicle,right:iPge,
  decades:iDecades,decadeLabels:iDecadeLabels,minTick:-10,maxTick:-4,
  sideLabels:[[114,1452,'Vehicle'],[400,1461,'PGE_2'],[420,1472,'100 nM']]});
</script>
</body>
</html>
